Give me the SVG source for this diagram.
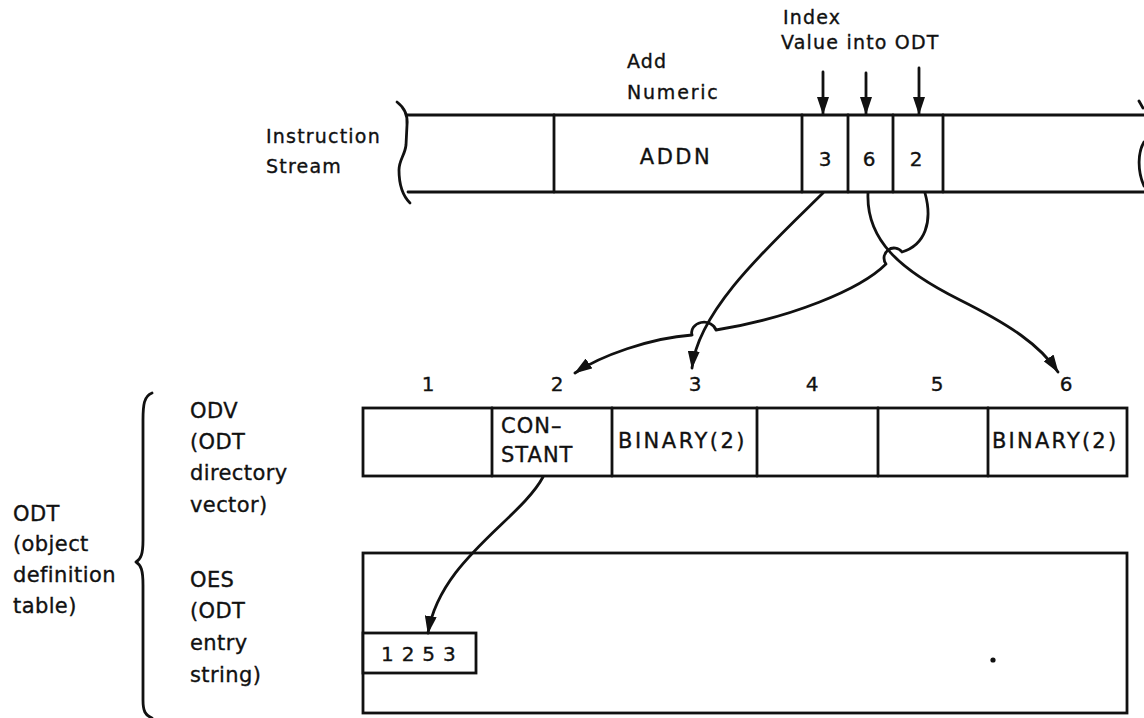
<svg xmlns="http://www.w3.org/2000/svg" width="1144" height="718" viewBox="0 0 1144 718">
<style>
  .ln{fill:none;stroke:#111;stroke-width:2.8;stroke-linecap:round;stroke-linejoin:round}
  .box{fill:#fff;stroke:#111;stroke-width:2.8}
  .t{font-family:"DejaVu Sans","Liberation Sans",sans-serif;fill:#111;stroke:#111;stroke-width:0.35}
  .top{font-size:19px;letter-spacing:1.2px}
  .lab{font-size:21px;letter-spacing:0.4px}
  .cell{font-size:21px;letter-spacing:2.5px}
  .num{font-size:20px;text-anchor:middle}
</style>
<defs>
  <marker id="arr" viewBox="0 0 18 12" refX="17" refY="6" markerWidth="18" markerHeight="12" markerUnits="userSpaceOnUse" orient="auto">
    <path d="M0,0 L18,6 L0,12 z" fill="#111"/>
  </marker>
</defs>
<rect width="1144" height="718" fill="#fff"/>

<g id="instruction-stream">
  <text class="t top" x="266" y="143">Instruction</text>
  <text class="t top" x="266" y="173">Stream</text>
  <line class="ln" x1="407" y1="115" x2="1144" y2="115"/>
  <line class="ln" x1="408" y1="192" x2="1144" y2="192"/>
  <path class="ln" d="M397 102 C405 108 408 115 407 125 L406 145 C405 155 399 160 399 170 C399 185 402 195 410 203"/>
  <path class="ln" d="M1139 101 L1143 108"/>
  <path class="ln" d="M1144 142 C1138 152 1137 170 1144 186"/>
  <line class="ln" x1="554" y1="115" x2="554" y2="192"/>
  <line class="ln" x1="802" y1="115" x2="802" y2="192"/>
  <line class="ln" x1="848" y1="115" x2="848" y2="192"/>
  <line class="ln" x1="893" y1="115" x2="893" y2="192"/>
  <line class="ln" x1="943" y1="115" x2="943" y2="192"/>
</g>

<g id="addn">
  <text class="t top" x="627" y="68">Add</text>
  <text class="t top" x="627" y="99" style="letter-spacing:1.8px">Numeric</text>
  <text class="t cell" x="676" y="164" text-anchor="middle">ADDN</text>
</g>

<g id="index-cells">
  <text class="t top" x="783" y="24">Index</text>
  <text class="t top" x="781" y="49">Value into ODT</text>
  <text class="t num" x="825" y="166">3</text>
  <text class="t num" x="869" y="166">6</text>
  <text class="t num" x="916" y="166">2</text>
  <line class="ln" x1="823" y1="72" x2="823" y2="114" marker-end="url(#arr)"/>
  <line class="ln" x1="866" y1="73" x2="866" y2="114" marker-end="url(#arr)"/>
  <line class="ln" x1="919" y1="68" x2="919" y2="114" marker-end="url(#arr)"/>
</g>

<g id="odt-label">
  <text class="t lab" x="13" y="521">ODT</text>
  <text class="t lab" x="13" y="551">(object</text>
  <text class="t lab" x="13" y="582">definition</text>
  <text class="t lab" x="13" y="613">table)</text>
  <path class="ln" d="M152 393 C144 396 143 405 143 420 L143 540 C143 554 141 559 136 562 C141 565 143 570 143 585 L143 700 C143 711 145 715 152 718"/>
</g>

<g id="odv">
  <text class="t lab" x="190" y="418">ODV</text>
  <text class="t lab" x="190" y="449">(ODT</text>
  <text class="t lab" x="190" y="480">directory</text>
  <text class="t lab" x="190" y="512">vector)</text>
  <text class="t num" x="428" y="391">1</text>
  <text class="t num" x="557" y="391">2</text>
  <text class="t num" x="695" y="391">3</text>
  <text class="t num" x="812" y="391">4</text>
  <text class="t num" x="937" y="391">5</text>
  <text class="t num" x="1066" y="391">6</text>
  <rect class="box" x="363" y="408" width="764" height="68"/>
  <line class="ln" x1="492" y1="408" x2="492" y2="476"/>
  <line class="ln" x1="612" y1="408" x2="612" y2="476"/>
  <line class="ln" x1="757" y1="408" x2="757" y2="476"/>
  <line class="ln" x1="878" y1="408" x2="878" y2="476"/>
  <line class="ln" x1="988" y1="408" x2="988" y2="476"/>
  <text class="t cell" x="501" y="433" style="letter-spacing:1px">CON–</text>
  <text class="t cell" x="501" y="462" style="letter-spacing:1px">STANT</text>
  <text class="t cell" x="618" y="448">BINARY(2)</text>
  <text class="t cell" x="992" y="448" style="letter-spacing:2.2px">BINARY(2)</text>
</g>

<g id="oes">
  <text class="t lab" x="190" y="587">OES</text>
  <text class="t lab" x="190" y="618">(ODT</text>
  <text class="t lab" x="190" y="650">entry</text>
  <text class="t lab" x="190" y="682">string)</text>
  <rect class="box" x="363" y="553" width="764" height="160"/>
  <rect class="box" x="363" y="633" width="113" height="40"/>
  <text class="t cell" x="381" y="661" style="font-size:20px;letter-spacing:0.8px">1 2 5 3</text>
  <circle cx="993" cy="660" r="2.6" fill="#111"/>
</g>

<g id="connectors">
  <path class="ln" d="M823 193 C770 245 698 310 692 368" marker-end="url(#arr)"/>
  <path class="ln" d="M925 193 C933 222 925 245 902 252 A9 9 0 0 0 886 264 C860 290 790 318 716 330 A12 10 0 0 0 692 335 C650 338 600 356 575 373" marker-end="url(#arr)"/>
  <path class="ln" d="M868 193 C866 240 900 270 960 300 C1010 325 1040 345 1058 372" marker-end="url(#arr)"/>
  <path class="ln" d="M543 477 C520 520 440 560 428 633" marker-end="url(#arr)"/>
</g>
</svg>
